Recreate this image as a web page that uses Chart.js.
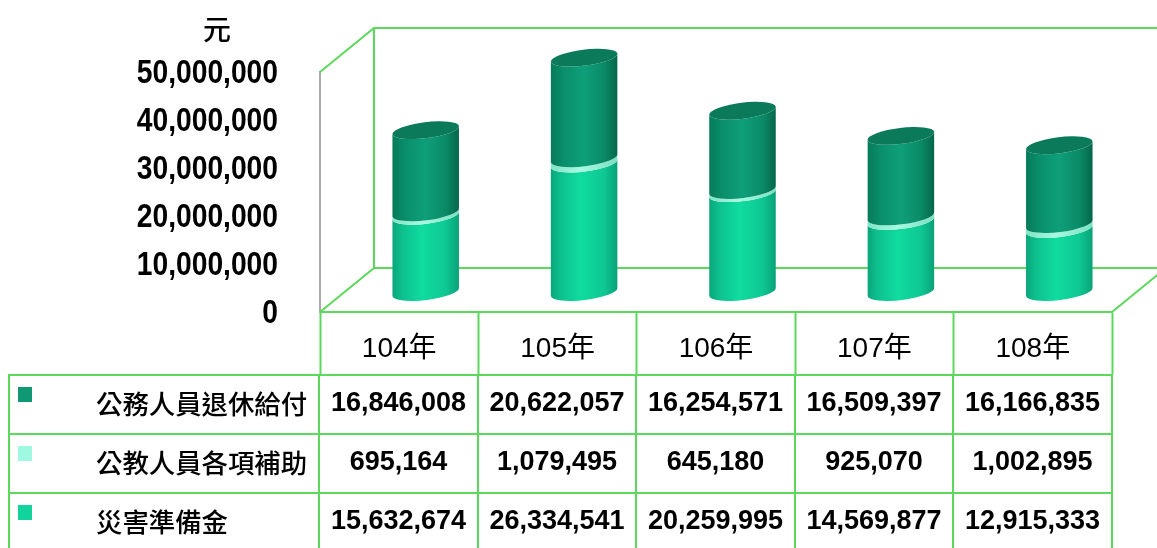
<!DOCTYPE html>
<html lang="zh-Hant">
<head>
    <meta charset="UTF-8">
    <title>元</title>
    <script src="https://cdn.jsdelivr.net/npm/chart.js"></script>
    <style>
        html, body {
            margin: 0;
            width: 1157px;
            height: 548px;
            overflow: hidden;
            background: #fff;
        }
        #wrap {
            position: relative;
            width: 1157px;
            height: 548px;
            overflow: hidden;
        }
        #unit {
            position: absolute;
            left: 203px;
            top: 8px;
            font: 500 28px "Noto Sans CJK TC", "Liberation Sans";
            line-height: 40px;
            color: #000;
        }
        #dataTable {
            position: absolute;
            left: 8px;
            top: 374px;
            width: 1104px;
            table-layout: fixed;
            border-collapse: collapse;
            color: #000;
        }
        #dataTable td {
            height: 53px;
            padding: 0 0 4px 0;
            border: 2px solid #5cd95c;
            text-align: center;
            font: 700 27px "Liberation Sans", "Noto Sans CJK TC";
            white-space: nowrap;
            overflow: hidden;
        }
        #dataTable td.name {
            position: relative;
            text-align: left;
            padding-left: 86px;
            font: 500 26.4px "Noto Sans CJK TC", "Liberation Sans";
        }
        .swatch {
            position: absolute;
            left: 8px;
            top: 11px;
            width: 14px;
            height: 15px;
        }
    </style>
</head>
<body>
<div id="wrap">
    <canvas id="chart" width="1157" height="548"></canvas>
    <div id="unit">元</div>
    <table id="dataTable">
        <colgroup>
            <col style="width:310px"><col style="width:159px"><col style="width:158px"><col style="width:159px"><col style="width:158px"><col style="width:159px">
        </colgroup>
        <tbody id="tableBody"></tbody>
    </table>
</div>
<script>
    const years = ['104年', '105年', '106年', '107年', '108年'];
    const retirement = [16846008, 20622057, 16254571, 16509397, 16166835];
    const subsidy = [695164, 1079495, 645180, 925070, 1002895];
    const disaster = [15632674, 26334541, 20259995, 14569877, 12915333];
    const yMax = 50000000;
    const yStep = 10000000;

    const GREEN_LINE = '#5cd95c';
    const DEPTH_X = 54;
    const DEPTH_Y = 44;
    // bars sit halfway into the box
    const BAR_SHIFT_X = 26.5;
    const BAR_SHIFT_Y = 20;
    const TILT = -7 * Math.PI / 180;
    const RIM = 8;
    // the original y labels are a tall condensed bold
    const LABEL_SQUEEZE = 0.855;

    const rows = [
        { name: '公務人員退休給付', values: retirement, color: '#0e9873' },
        { name: '公教人員各項補助', values: subsidy, color: '#9ff8e1' },
        { name: '災害準備金', values: disaster, color: '#10d49b' }
    ];

    const tableBody = document.getElementById('tableBody');
    rows.forEach(row => {
        const tr = document.createElement('tr');
        let html = `<td class="name"><span class="swatch" style="background:${row.color}"></span>${row.name}</td>`;
        row.values.forEach(v => {
            html += `<td>${v.toLocaleString('en-US')}</td>`;
        });
        tr.innerHTML = html;
        tableBody.appendChild(tr);
    });

    function sideGradient(ctx, left, right, stops) {
        const g = ctx.createLinearGradient(left, 0, right, 0);
        stops.forEach(s => g.addColorStop(s[0], s[1]));
        return g;
    }

    const cylinderStops = [
        [[0, '#0aa57a'], [0.15, '#0dc08e'], [0.45, '#10dc9f'], [0.8, '#0ec792'], [1, '#09a177']],
        [[0, '#7fe4c6'], [0.45, '#a8f8e2'], [1, '#7adfc2']],
        [[0, '#067a58'], [0.2, '#0a8f6b'], [0.5, '#0e9f79'], [0.8, '#0a8a66'], [1, '#05664a']]
    ];
    const capColor = '#0b7a5b';

    const boxPlugin = {
        id: 'box3d',
        afterLayout(chart) {
            const scale = chart.scales.y;
            if (scale._squeezed) return;
            scale._squeezed = true;
            const drawLabels = scale.drawLabels;
            scale.drawLabels = function (area) {
                const ctx = chart.ctx;
                const edge = scale.right - scale.options.ticks.padding;
                ctx.save();
                ctx.translate(edge, 2);
                ctx.scale(LABEL_SQUEEZE, 1);
                ctx.translate(-edge, 0);
                drawLabels.call(scale, area);
                ctx.restore();
            };
        },
        beforeDatasetsDraw(chart) {
            const ctx = chart.ctx;
            const a = chart.chartArea;
            ctx.save();
            ctx.strokeStyle = GREEN_LINE;
            ctx.lineWidth = 2;
            ctx.beginPath();
            // back wall
            ctx.moveTo(a.left + DEPTH_X, a.bottom - DEPTH_Y);
            ctx.lineTo(a.left + DEPTH_X, a.top - DEPTH_Y);
            ctx.lineTo(a.right + DEPTH_X, a.top - DEPTH_Y);
            ctx.moveTo(a.left + DEPTH_X, a.bottom - DEPTH_Y);
            ctx.lineTo(a.right + DEPTH_X, a.bottom - DEPTH_Y);
            // diagonals
            ctx.moveTo(a.left, a.top);
            ctx.lineTo(a.left + DEPTH_X, a.top - DEPTH_Y);
            ctx.moveTo(a.left, a.bottom);
            ctx.lineTo(a.left + DEPTH_X, a.bottom - DEPTH_Y);
            ctx.moveTo(a.right, a.bottom);
            ctx.lineTo(a.right + DEPTH_X, a.bottom - DEPTH_Y);
            ctx.stroke();

            ctx.translate(BAR_SHIFT_X, -BAR_SHIFT_Y);
            years.forEach((_, i) => {
                chart.data.datasets.forEach((ds, d) => {
                    const bar = chart.getDatasetMeta(d).data[i];
                    const rx = bar.width / 2;
                    const left = bar.x - rx;
                    const right = bar.x + rx;
                    ctx.fillStyle = sideGradient(ctx, left, right, cylinderStops[d]);
                    ctx.beginPath();
                    ctx.ellipse(bar.x, bar.base, rx, RIM, TILT, 0, Math.PI);
                    ctx.ellipse(bar.x, bar.y, rx, RIM, TILT, Math.PI, 0, true);
                    ctx.closePath();
                    ctx.fill();
                    if (d === chart.data.datasets.length - 1) {
                        ctx.fillStyle = capColor;
                        ctx.beginPath();
                        ctx.ellipse(bar.x, bar.y, rx, RIM, TILT, 0, Math.PI * 2);
                        ctx.fill();
                    }
                });
            });
            ctx.restore();
        },
        // cylinders are painted above from the bar elements
        beforeDatasetDraw() {
            return false;
        }
    };

    new Chart(document.getElementById('chart').getContext('2d'), {
        type: 'bar',
        data: {
            labels: years,
            datasets: [
                { label: rows[2].name, data: disaster, yAxisID: 'yBars', backgroundColor: '#10d49b', barThickness: 67 },
                { label: rows[1].name, data: subsidy, yAxisID: 'yBars', backgroundColor: '#9ff8e1', barThickness: 67 },
                { label: rows[0].name, data: retirement, yAxisID: 'yBars', backgroundColor: '#0e9873', barThickness: 67 }
            ]
        },
        options: {
            responsive: false,
            animation: false,
            layout: { padding: { left: 0, right: 45, top: 72, bottom: 174 } },
            plugins: { legend: { display: false }, tooltip: { enabled: false } },
            scales: {
                x: {
                    stacked: true,
                    grid: { drawOnChartArea: false, drawTicks: true, tickLength: 62, tickColor: GREEN_LINE, tickWidth: 2 },
                    border: { color: GREEN_LINE, width: 2 },
                    ticks: {
                        color: '#000',
                        padding: -42,
                        font: { family: '"Liberation Sans", "Noto Sans CJK TC"', size: 28 }
                    },
                    afterFit(scale) { scale.height = 62; }
                },
                y: {
                    min: 0,
                    max: yMax,
                    grid: { drawOnChartArea: false, drawTicks: false },
                    border: { color: '#aaaaaa', width: 2 },
                    ticks: {
                        stepSize: yStep,
                        color: '#000',
                        padding: 42,
                        font: { family: '"Liberation Sans"', size: 33, weight: 'bold' },
                        callback: v => v.toLocaleString('en-US')
                    },
                    afterFit(scale) { scale.width = 320; }
                },
                yBars: {
                    display: false,
                    stacked: true,
                    min: 0,
                    max: 49200000
                }
            }
        },
        plugins: [boxPlugin]
    });
</script>
</body>
</html>
